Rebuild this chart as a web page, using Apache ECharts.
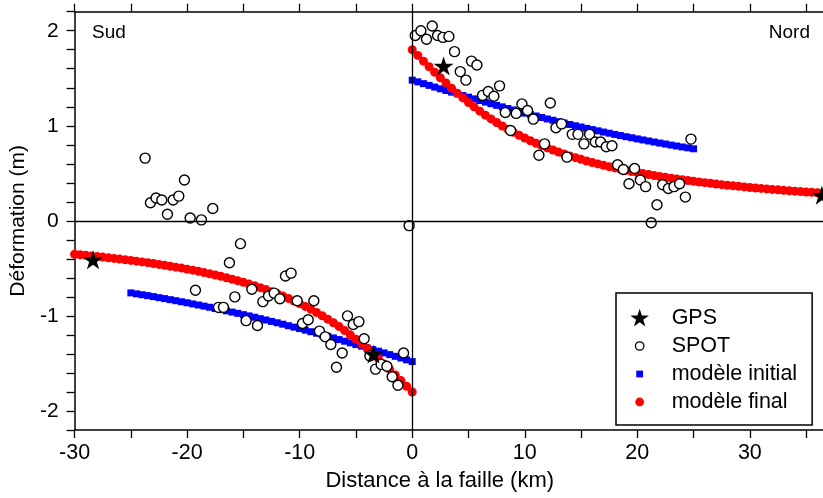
<!DOCTYPE html>
<html><head><meta charset="utf-8">
<script src="https://cdn.jsdelivr.net/npm/echarts@6/dist/echarts.min.js"></script>
<style>html,body{margin:0;padding:0;background:#fff}#c{width:823px;height:498px}</style>
</head><body><div id="c"></div>
<script>
// ---- axis ticks / labels ----
const xLabelValues = [-30, -20, -10, 0, 10, 20, 30];
const xTickValues = [-30, -25, -20, -15, -10, -5, 0, 5, 10, 15, 20, 25, 30, 35];
const yLabelValues = [-2, -1, 0, 1, 2];
const yTickValues = [-2.2, -2, -1.8, -1.6, -1.4, -1.2, -1, -0.8, -0.6, -0.4, -0.2, 0, 0.2, 0.4, 0.6, 0.8, 1, 1.2, 1.4, 1.6, 1.8, 2, 2.2];
const xName = 'Distance à la faille (km)';
const yName = 'Déformation (m)';
const regionLabels = ['Sud', 'Nord'];
const legendNames = ['GPS', 'SPOT', 'modèle initial', 'modèle final'];

// ---- data ----
const gpsPoints = [[-28.36, -0.41], [-3.44, -1.40], [2.79, 1.63], [36.4, 0.27]];

const spotSouth = [
  [-23.73, 0.66], [-23.26, 0.19], [-22.76, 0.24], [-22.25, 0.22], [-21.75, 0.07], [-21.24, 0.22],
  [-20.74, 0.26], [-20.24, 0.43], [-19.73, 0.03], [-18.73, 0.01], [-17.72, 0.13],
  [-19.26, -0.73], [-17.21, -0.91], [-16.77, -0.91], [-16.24, -0.44], [-15.76, -0.80], [-15.26, -0.24],
  [-14.76, -1.05], [-14.25, -0.72], [-13.75, -1.10], [-13.27, -0.85], [-12.77, -0.79], [-12.27, -0.76],
  [-11.76, -0.82], [-11.26, -0.58], [-10.76, -0.55], [-10.22, -0.84], [-9.75, -1.08], [-9.24, -1.04],
  [-8.74, -0.84], [-8.24, -1.16], [-7.73, -1.22], [-7.23, -1.30], [-6.73, -1.54], [-6.22, -1.39],
  [-5.75, -1.00], [-5.24, -1.09], [-4.74, -1.06], [-4.27, -1.24], [-3.76, -1.42], [-3.26, -1.56],
  [-2.76, -1.51], [-2.25, -1.53], [-1.78, -1.64], [-1.27, -1.73], [-0.77, -1.39], [-0.27, -0.05]
];
const spotNorth = [
  [0.27, 1.95], [0.77, 2.00], [1.27, 1.91], [1.78, 2.05], [2.25, 1.95], [2.73, 1.93], [3.26, 1.94],
  [3.76, 1.78], [4.27, 1.57], [4.77, 1.48], [5.27, 1.68], [5.75, 1.64], [6.25, 1.32], [6.76, 1.36],
  [7.26, 1.31], [7.76, 1.42], [8.27, 1.14], [8.74, 0.95], [9.24, 1.13], [9.75, 1.23], [10.25, 1.16],
  [10.76, 1.07], [11.26, 0.69], [11.76, 0.81], [12.27, 1.24], [12.77, 0.98], [13.27, 1.02], [13.75, 0.67],
  [14.22, 0.91], [14.73, 0.91], [15.26, 0.81], [15.76, 0.91], [16.27, 0.83], [16.74, 0.83], [17.24, 0.78],
  [17.75, 0.79], [18.25, 0.59], [18.76, 0.54], [19.26, 0.39], [19.76, 0.55], [20.27, 0.43], [20.74, 0.36],
  [21.24, -0.02], [21.75, 0.17], [22.25, 0.38], [22.76, 0.34], [23.26, 0.36], [23.76, 0.39], [24.27, 0.25],
  [24.77, 0.86]
];

const initialSouth = [
  [-25, -0.758], [-24.5, -0.768], [-24, -0.777], [-23.5, -0.787], [-23, -0.797], [-22.5, -0.808],
  [-22, -0.818], [-21.5, -0.829], [-21, -0.840], [-20.5, -0.851], [-20, -0.862], [-19.5, -0.874],
  [-19, -0.885], [-18.5, -0.897], [-18, -0.909], [-17.5, -0.922], [-17, -0.934], [-16.5, -0.947],
  [-16, -0.960], [-15.5, -0.973], [-15, -0.987], [-14.5, -1.000], [-14, -1.014], [-13.5, -1.029],
  [-13, -1.043], [-12.5, -1.058], [-12, -1.072], [-11.5, -1.087], [-11, -1.103], [-10.5, -1.118],
  [-10, -1.133], [-9.5, -1.150], [-9, -1.166], [-8.5, -1.182], [-8, -1.199], [-7.5, -1.215],
  [-7, -1.232], [-6.5, -1.249], [-6, -1.266], [-5.5, -1.283], [-5, -1.301], [-4.5, -1.318],
  [-4, -1.336], [-3.5, -1.354], [-3, -1.371], [-2.5, -1.389], [-2, -1.407], [-1.5, -1.425],
  [-1, -1.443], [-0.5, -1.462], [0, -1.480]
];
const initialNorth = [
  [0, 1.480], [0.5, 1.462], [1, 1.443], [1.5, 1.425], [2, 1.407], [2.5, 1.389], [3, 1.371],
  [3.5, 1.354], [4, 1.336], [4.5, 1.318], [5, 1.301], [5.5, 1.283], [6, 1.266], [6.5, 1.249],
  [7, 1.232], [7.5, 1.215], [8, 1.199], [8.5, 1.182], [9, 1.166], [9.5, 1.150], [10, 1.133],
  [10.5, 1.118], [11, 1.103], [11.5, 1.087], [12, 1.072], [12.5, 1.058], [13, 1.043], [13.5, 1.029],
  [14, 1.014], [14.5, 1.000], [15, 0.987], [15.5, 0.973], [16, 0.960], [16.5, 0.947], [17, 0.934],
  [17.5, 0.922], [18, 0.909], [18.5, 0.897], [19, 0.885], [19.5, 0.874], [20, 0.862], [20.5, 0.851],
  [21, 0.840], [21.5, 0.829], [22, 0.818], [22.5, 0.808], [23, 0.797], [23.5, 0.787], [24, 0.777],
  [24.5, 0.768], [25, 0.758]
];
const finalSouth = [
  [-30, -0.351], [-29.5, -0.357], [-29, -0.363], [-28.5, -0.369], [-28, -0.375], [-27.5, -0.381],
  [-27, -0.388], [-26.5, -0.395], [-26, -0.402], [-25.5, -0.409], [-25, -0.416], [-24.5, -0.424],
  [-24, -0.432], [-23.5, -0.440], [-23, -0.449], [-22.5, -0.458], [-22, -0.467], [-21.5, -0.477],
  [-21, -0.487], [-20.5, -0.497], [-20, -0.508], [-19.5, -0.519], [-19, -0.531], [-18.5, -0.544],
  [-18, -0.557], [-17.5, -0.570], [-17, -0.584], [-16.5, -0.599], [-16, -0.614], [-15.5, -0.630],
  [-15, -0.647], [-14.5, -0.665], [-14, -0.683], [-13.5, -0.703], [-13, -0.723], [-12.5, -0.745],
  [-12, -0.767], [-11.5, -0.791], [-11, -0.816], [-10.5, -0.843], [-10, -0.871], [-9.5, -0.900],
  [-9, -0.931], [-8.5, -0.964], [-8, -0.998], [-7.5, -1.034], [-7, -1.072], [-6.5, -1.112],
  [-6, -1.154], [-5.5, -1.199], [-5, -1.245], [-4.5, -1.293], [-4, -1.343], [-3.5, -1.396],
  [-3, -1.450], [-2.5, -1.505], [-2, -1.562], [-1.5, -1.621], [-1, -1.680], [-0.5, -1.740], [0, -1.800]
];
const finalNorth = [
  [0, 1.800], [0.5, 1.740], [1, 1.680], [1.5, 1.621], [2, 1.562], [2.5, 1.505], [3, 1.450],
  [3.5, 1.396], [4, 1.343], [4.5, 1.293], [5, 1.245], [5.5, 1.199], [6, 1.154], [6.5, 1.112],
  [7, 1.072], [7.5, 1.034], [8, 0.998], [8.5, 0.964], [9, 0.931], [9.5, 0.900], [10, 0.871],
  [10.5, 0.843], [11, 0.816], [11.5, 0.791], [12, 0.767], [12.5, 0.745], [13, 0.723], [13.5, 0.703],
  [14, 0.683], [14.5, 0.665], [15, 0.647], [15.5, 0.630], [16, 0.614], [16.5, 0.599], [17, 0.584],
  [17.5, 0.570], [18, 0.557], [18.5, 0.544], [19, 0.531], [19.5, 0.519], [20, 0.508], [20.5, 0.497],
  [21, 0.487], [21.5, 0.477], [22, 0.467], [22.5, 0.458], [23, 0.449], [23.5, 0.440], [24, 0.432],
  [24.5, 0.424], [25, 0.416], [25.5, 0.409], [26, 0.402], [26.5, 0.395], [27, 0.388], [27.5, 0.381],
  [28, 0.375], [28.5, 0.369], [29, 0.363], [29.5, 0.357], [30, 0.351], [30.5, 0.346], [31, 0.341],
  [31.5, 0.336], [32, 0.331], [32.5, 0.326], [33, 0.321], [33.5, 0.317], [34, 0.312], [34.5, 0.308],
  [35, 0.304], [35.5, 0.300], [36, 0.296], [36.5, 0.292]
];

// ---- styling helpers ----
const FONT = 'Liberation Sans';
function starPath(cx, cy, R) {
  const r = R * 0.382;
  let d = '';
  for (let i = 0; i < 10; i++) {
    const rad = (i % 2 === 0 ? R : r);
    const a = -Math.PI / 2 + i * Math.PI / 5;
    d += (i === 0 ? 'M' : 'L') + (cx + rad * Math.cos(a)).toFixed(2) + ' ' + (cy + rad * Math.sin(a)).toFixed(2) + ' ';
  }
  return d + 'Z';
}
function circlePath(cx, cy, r) {
  return 'M' + (cx - r) + ' ' + cy + ' A' + r + ' ' + r + ' 0 1 1 ' + (cx + r) + ' ' + cy +
         ' A' + r + ' ' + r + ' 0 1 1 ' + (cx - r) + ' ' + cy + ' Z';
}
function squarePath(cx, cy, h) {
  return 'M' + (cx - h) + ' ' + (cy - h) + ' L' + (cx + h) + ' ' + (cy - h) + ' L' + (cx + h) + ' ' + (cy + h) + ' L' + (cx - h) + ' ' + (cy + h) + ' Z';
}
const LW = 37, LH = 20;
const frame = 'M0 0 M' + LW + ' ' + LH + ' ';
const starSymbol = 'path://' + starPath(10, 10, 10);

const chart = echarts.init(document.getElementById('c'), null, { renderer: 'canvas' });
const axisLine = { show: true, onZero: false, lineStyle: { color: '#000', width: 1.5 } };
const axisTick = { show: true, inside: false, length: 8, lineStyle: { color: '#000', width: 1.3 } };

chart.setOption({
  animation: false,
  backgroundColor: '#fff',
  grid: { left: 74.5, right: 0, top: 11.7, bottom: 68, containLabel: false },
  xAxis: [
    {
      type: 'value', position: 'bottom', min: -30, max: 36.5,
      axisLine: axisLine,
      axisTick: Object.assign({}, axisTick, { customValues: xTickValues }),
      axisLabel: { customValues: xLabelValues, margin: 12, fontSize: 21.5, fontFamily: FONT, color: '#000' },
      splitLine: { show: false },
      name: xName, nameLocation: 'middle', nameGap: 40,
      nameTextStyle: { fontSize: 22, fontFamily: FONT, color: '#000', padding: [0, 18, 0, 0] }
    },
    {
      type: 'value', position: 'top', min: -30, max: 36.5,
      axisLine: axisLine,
      axisTick: Object.assign({}, axisTick, { customValues: xTickValues }),
      axisLabel: { show: false },
      splitLine: { show: false }
    }
  ],
  yAxis: [{
    type: 'value', position: 'left', min: -2.2, max: 2.2,
    axisLine: axisLine,
    axisTick: Object.assign({}, axisTick, { customValues: yTickValues }),
    axisLabel: { customValues: yLabelValues, margin: 16, fontSize: 21, fontFamily: FONT, color: '#000' },
    splitLine: { show: false },
    name: yName, nameLocation: 'middle', nameGap: 41.5,
    nameTextStyle: { fontSize: 21, fontFamily: FONT, color: '#000' }
  }],
  legend: {
    show: true, orient: 'vertical', left: 616, top: 293,
    padding: [14, 15, 12, 13], itemGap: 6, itemWidth: LW, itemHeight: LH,
    borderColor: '#000', borderWidth: 1.5, backgroundColor: '#fff', selectedMode: false,
    textStyle: { fontSize: 21.5, fontFamily: FONT, color: '#000', lineHeight: 20 },
    data: [
      { name: legendNames[0], icon: 'path://' + frame + starPath(10, 10.5, 9.8), itemStyle: { color: '#000', borderWidth: 0, opacity: 1 } },
      { name: legendNames[1], icon: 'path://' + frame + circlePath(10, 10, 4.2), itemStyle: { color: '#fff', borderColor: '#000', borderWidth: 1.3, opacity: 1 } },
      { name: legendNames[2], icon: 'path://' + frame + squarePath(10, 10, 3.4), itemStyle: { color: '#0000ff', borderWidth: 0, opacity: 1 } },
      { name: legendNames[3], icon: 'path://' + frame + circlePath(10, 10, 4.4), itemStyle: { color: '#ff0000', borderWidth: 0, opacity: 1 } }
    ]
  },
  graphic: [
    { type: 'text', left: 92, top: 23, style: { text: regionLabels[0], font: '19px "Liberation Sans"', fill: '#000' } },
    { type: 'text', right: 13, top: 23, style: { text: regionLabels[1], font: '19px "Liberation Sans"', fill: '#000' } }
  ],
  series: [
    {
      type: 'line', data: [], z: 1, silent: true,
      markLine: {
        silent: true, symbol: 'none', label: { show: false }, animation: false,
        lineStyle: { color: '#000', width: 1.3, type: 'solid', opacity: 1 },
        data: [{ xAxis: 0 }, { yAxis: 0 }]
      }
    },
    {
      name: legendNames[2], type: 'scatter', z: 2, symbol: 'rect', symbolSize: 7,
      itemStyle: { color: '#0000ff', opacity: 1 }, data: initialSouth.concat(initialNorth)
    },
    {
      name: legendNames[3], type: 'scatter', z: 3, symbol: 'circle', symbolSize: 9,
      itemStyle: { color: '#ff0000', opacity: 1 }, data: finalSouth.concat(finalNorth)
    },
    {
      name: legendNames[1], type: 'scatter', z: 4, symbol: 'circle', symbolSize: 10,
      itemStyle: { color: '#fff', borderColor: '#000', borderWidth: 1.4, opacity: 1 },
      data: spotSouth.concat(spotNorth)
    },
    {
      name: legendNames[0], type: 'scatter', z: 5, symbol: starSymbol, symbolSize: [20, 19],
      itemStyle: { color: '#000', opacity: 1 }, data: gpsPoints
    }
  ]
});
</script></body></html>
